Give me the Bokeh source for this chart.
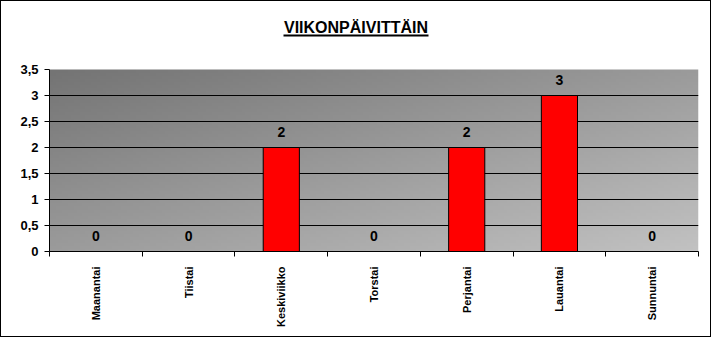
import numpy as np
from bokeh.plotting import figure
from bokeh.models import FixedTicker, Range1d, Label, BoxAnnotation, ColumnDataSource
from bokeh.core.properties import value
from bokeh.embed import file_html
from bokeh.resources import INLINE

days = ["Maanantai", "Tiistai", "Keskiviikko", "Torstai", "Perjantai", "Lauantai", "Sunnuntai"]
counts = [0, 0, 2, 0, 2, 3, 0]
y_ticks = [0, 0.5, 1, 1.5, 2, 2.5, 3, 3.5]
y_tick_labels = ["0", "0,5", "1", "1,5", "2", "2,5", "3", "3,5"]
title_text = "VIIKONPÄIVITTÄIN"

FONT = "Liberation Sans"
n = len(days)
centers = [i + 0.5 for i in range(n)]

# frame covers the title area too; the axis is bounded to 0..3.5
FRAME_L, FRAME_W = 48, 649
PLOT_H = 182          # pixel height of the 0..3.5 area
FRAME_H = 250         # canvas 0..250
YMAX = 3.5
YTOP = FRAME_H * YMAX / PLOT_H

def px_x(px):  # canvas px -> data x
    return (px - FRAME_L) / FRAME_W * n
def px_y(py):  # canvas px -> data y
    return (FRAME_H - py) * YMAX / PLOT_H

p = figure(width=711, height=337, output_backend="svg", toolbar_location=None,
           x_range=Range1d(0, n), y_range=Range1d(0, YTOP),
           min_border_left=FRAME_L, min_border_right=711 - FRAME_L - FRAME_W,
           min_border_top=0, min_border_bottom=337 - FRAME_H)
p.styles = {"border": "1px solid black"}
p.outline_line_color = None
p.background_fill_color = "white"

# gradient background of plot area
H, W = 60, 220
yy, xx = np.mgrid[0:H, 0:W]
u = xx / (W - 1)
v = 1 - yy / (H - 1)  # image row 0 is bottom
t = (u + v) / 2
g = (116 + 78 * t).astype(np.uint8)
img = np.zeros((H, W), dtype=np.uint32)
view = img.view(dtype=np.uint8).reshape((H, W, 4))
view[..., 0] = g
view[..., 1] = g
view[..., 2] = g
view[..., 3] = 255
p.image_rgba(image=[img], x=0, y=0, dw=n, dh=YMAX, level="image")

# bars
src = ColumnDataSource(dict(x=centers, top=counts, label=[str(c) for c in counts]))
p.vbar(x="x", top="top", width=0.39, source=src, fill_color="#FF0000", line_color="black", line_width=1)
p.text(x="x", y="top", text="label", source=src, y_offset=-11, text_align="center",
       text_baseline="bottom", text_font=value(FONT), text_font_style="bold",
       text_font_size="14px", text_color="black")

# axes
p.xaxis.ticker = FixedTicker(ticks=centers, minor_ticks=list(range(n + 1)))
p.xaxis.major_label_overrides = {c: d for c, d in zip(centers, days)}
p.xaxis.major_label_orientation = np.pi / 2
p.xaxis.major_tick_line_color = None
p.xaxis.major_tick_out = 0
p.xaxis.major_tick_in = 0
p.xaxis.minor_tick_out = 5
p.xaxis.minor_tick_in = 0
p.xaxis.minor_tick_line_color = "black"
p.xaxis.major_label_standoff = 10
p.xaxis.major_label_text_font = FONT
p.xaxis.major_label_text_font_style = "bold"
p.xaxis.major_label_text_font_size = "11px"
p.xaxis.major_label_text_color = "black"
p.xaxis.axis_line_color = "black"

p.yaxis.bounds = (0, YMAX)
p.yaxis.ticker = FixedTicker(ticks=y_ticks)
p.yaxis.major_label_overrides = {t_: l for t_, l in zip(y_ticks, y_tick_labels)}
p.yaxis.major_tick_out = 5
p.yaxis.major_tick_in = 0
p.yaxis.minor_tick_line_color = None
p.yaxis.major_tick_line_color = "black"
p.yaxis.major_label_standoff = 6
p.yaxis.major_label_text_font = FONT
p.yaxis.major_label_text_font_style = "bold"
p.yaxis.major_label_text_font_size = "13px"
p.yaxis.major_label_text_color = "black"
p.yaxis.axis_line_color = "black"

p.xgrid.grid_line_color = None
p.ygrid.ticker = FixedTicker(ticks=[t_ for t_ in y_ticks if 0 < t_ < YMAX])
p.ygrid.grid_line_color = "black"
p.ygrid.grid_line_width = 1

# title with underline (inside the frame's white top part)
p.add_layout(Label(x=px_x(354.5), y=px_y(26), text=title_text,
                   text_align="center", text_baseline="alphabetic", text_font=FONT,
                   text_font_style="bold", text_font_size="16px", text_color="black"))
p.add_layout(BoxAnnotation(left=px_x(282), right=px_x(427), top=px_y(33), bottom=px_y(35),
                           fill_color="black", fill_alpha=1, line_color=None, line_alpha=0))

open("out.html", "w").write(file_html(p, INLINE))
